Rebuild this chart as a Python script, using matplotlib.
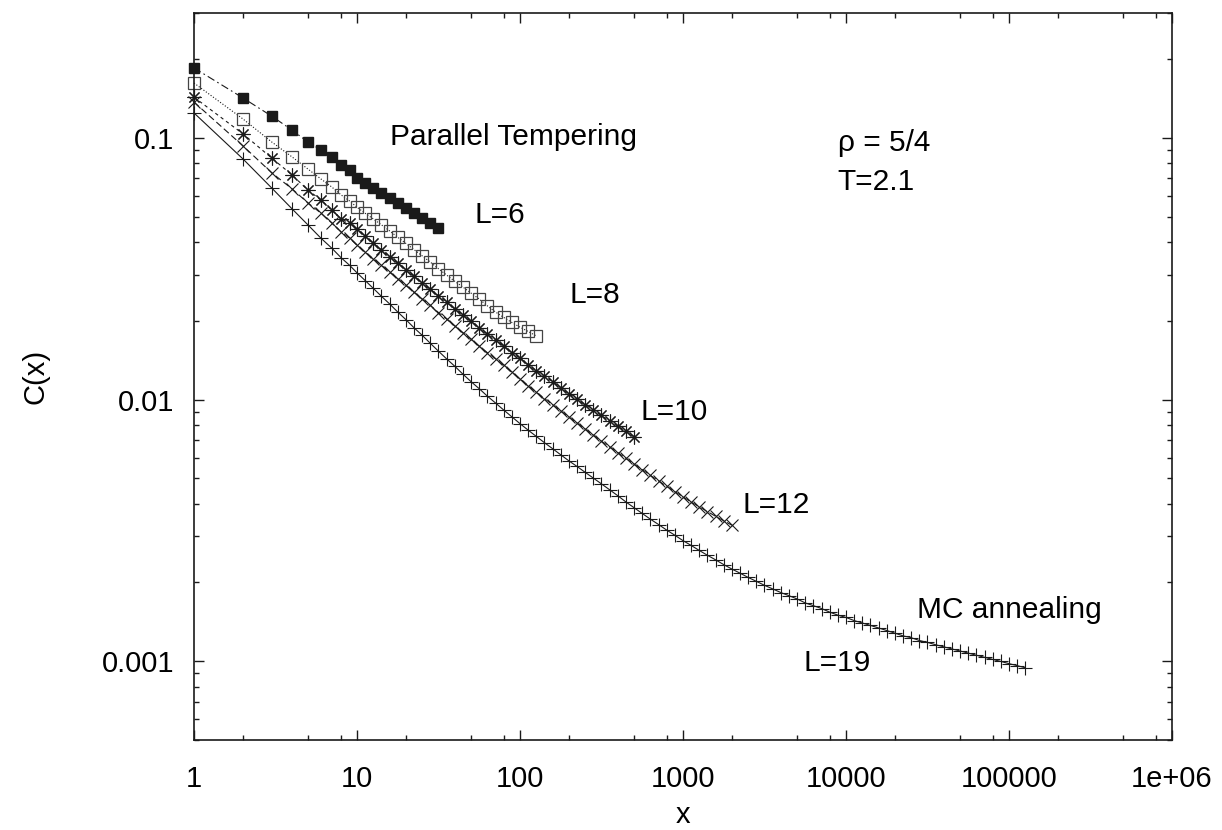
import numpy as np
import matplotlib
matplotlib.use("Agg")
import matplotlib.pyplot as plt
from matplotlib.ticker import FixedLocator, FixedFormatter, LogLocator, NullFormatter

plt.rcParams['font.family'] = ['Liberation Sans', 'DejaVu Sans']

# ---- data ----
# common x grid: integers 1..10, then ~20 points per decade
x_grid = [1, 2, 3, 4, 5, 6, 7, 8, 9, 10,
          11.22, 12.59, 14.13, 15.85, 17.78, 19.95, 22.39, 25.12, 28.18, 31.62,
          35.48, 39.81, 44.67, 50.12, 56.23, 63.10, 70.79, 79.43, 89.13, 100.0,
          112.2, 125.9, 141.3, 158.5, 177.8, 199.5, 223.9, 251.2, 281.8, 316.2,
          354.8, 398.1, 446.7, 501.2, 562.3, 631.0, 707.9, 794.3, 891.3, 1000.0,
          1122, 1259, 1413, 1585, 1778, 1995, 2239, 2512, 2818, 3162,
          3548, 3981, 4467, 5012, 5623, 6310, 7079, 7943, 8913, 10000,
          11220, 12590, 14130, 15850, 17780, 19950, 22390, 25120, 28180, 31620,
          35480, 39810, 44670, 50120, 56230, 63100, 70790, 79430, 89130, 100000,
          112200, 125900]

c_L6 = [0.185, 0.142, 0.121, 0.107, 0.0964, 0.0899, 0.0845, 0.0787, 0.0753, 0.0703,
        0.0673, 0.0644, 0.0617, 0.0590, 0.0565, 0.0540, 0.0516, 0.0494, 0.0473, 0.0453]

c_L8 = [0.162, 0.118, 0.0964, 0.0845, 0.0760, 0.0697, 0.0649, 0.0605, 0.0574, 0.0543,
        0.0515, 0.0490, 0.0465, 0.0441, 0.0417, 0.0395, 0.0374, 0.0354, 0.0335, 0.0316,
        0.0299, 0.0283, 0.0269, 0.0255, 0.0242, 0.0228, 0.0216, 0.0206, 0.0197, 0.0189,
        0.0182, 0.0175]

c_L10 = [0.143, 0.1035, 0.0837, 0.0721, 0.0632, 0.0579, 0.0530, 0.0490, 0.0473, 0.0447,
         0.0421, 0.0396, 0.0373, 0.0352, 0.0332, 0.0313, 0.0296, 0.0279, 0.0264, 0.0249,
         0.0235, 0.0222, 0.0210, 0.0199, 0.0188, 0.0178, 0.0169, 0.0160, 0.0151, 0.0144,
         0.0136, 0.0129, 0.0123, 0.0117, 0.0111, 0.01054, 0.01005, 0.00957, 0.00912, 0.00869,
         0.00828, 0.00791, 0.00755, 0.00721]

c_L12 = [0.137, 0.0931, 0.0735, 0.0638, 0.0564, 0.0516, 0.0473, 0.0437, 0.0414, 0.0389,
         0.0366, 0.0345, 0.0326, 0.0307, 0.0289, 0.0273, 0.0257, 0.0242, 0.0229, 0.0215,
         0.0203, 0.0191, 0.0180, 0.0170, 0.0160, 0.0151, 0.0143, 0.0135, 0.0127, 0.0120,
         0.0113, 0.01067, 0.01009, 0.00955, 0.00904, 0.00857, 0.00813, 0.00771, 0.00731, 0.00693,
         0.00659, 0.00627, 0.00596, 0.00566, 0.00540, 0.00513, 0.00489, 0.00466, 0.00445, 0.00425,
         0.00406, 0.00389, 0.00373, 0.00358, 0.00344, 0.00331]

c_L19 = [0.1245, 0.0830, 0.0643, 0.0535, 0.0465, 0.0414, 0.0379, 0.0348, 0.0326, 0.0305,
         0.0285, 0.0266, 0.0248, 0.0232, 0.0216, 0.0202, 0.0188, 0.0176, 0.0164, 0.0153,
         0.0143, 0.0134, 0.0125, 0.0117, 0.0110, 0.0103, 0.00970, 0.00912, 0.00859, 0.00809,
         0.00764, 0.00723, 0.00684, 0.00649, 0.00615, 0.00583, 0.00555, 0.00527, 0.00501, 0.00476,
         0.00452, 0.00429, 0.00406, 0.00386, 0.00367, 0.00349, 0.00333, 0.00317, 0.00303, 0.00289,
         0.00277, 0.00265, 0.00254, 0.00244, 0.00234, 0.00225, 0.00217, 0.00209, 0.00202, 0.00195,
         0.00189, 0.00183, 0.00178, 0.00173, 0.00167, 0.00163, 0.00159, 0.00154, 0.00150, 0.00147,
         0.00143, 0.00140, 0.00137, 0.00134, 0.00131, 0.00128, 0.00125, 0.00123, 0.00120, 0.00118,
         0.001156, 0.001135, 0.001114, 0.001094, 0.001074, 0.001054, 0.001035, 0.001016, 0.000998, 0.000979,
         0.000962, 0.000944]

x_ticks = [1, 10, 100, 1000, 10000, 100000, 1e6]
x_tick_labels = ["1", "10", "100", "1000", "10000", "100000", "1e+06"]
y_ticks = [0.001, 0.01, 0.1]
y_tick_labels = ["0.001", "0.01", "0.1"]

# ---- figure ----
fig = plt.figure(figsize=(12.22, 8.30), dpi=100)
ax = fig.add_axes([194/1222, 1 - 740/830, 978/1222, 727/830])

ink = "#1a1a1a"
lw = 0.8

def series(c, **kw):
    xs = x_grid[:len(c)]
    ax.plot(xs, c, color=ink, lw=lw, clip_on=False, **kw)

series(c_L6, marker="s", ms=7.8, mfc=ink, mec=ink, dashes=(7, 3, 1.5, 3))
series(c_L8, marker="s", ms=8.2, mfc="none", mec="#444444", mew=0.9, ls=":")
series(c_L10, marker=(8, 2, 0), ms=10, mec=ink, mew=0.8, dashes=(3, 3))
series(c_L12, marker="x", ms=8, mec=ink, mew=0.8, dashes=(6, 3))
series(c_L19, marker="+", ms=10, mec=ink, mew=0.8, ls="-")

ax.set_xscale("log")
ax.set_yscale("log")
ax.set_xlim(1, 1e6)
ax.set_ylim(0.0005, 0.3)

ax.xaxis.set_major_locator(FixedLocator(x_ticks))
ax.xaxis.set_major_formatter(FixedFormatter(x_tick_labels))
ax.xaxis.set_minor_locator(LogLocator(base=10, subs=(2, 5, 8), numticks=20))
ax.xaxis.set_minor_formatter(NullFormatter())
ax.yaxis.set_major_locator(FixedLocator(y_ticks))
ax.yaxis.set_major_formatter(FixedFormatter(y_tick_labels))
ax.yaxis.set_minor_locator(LogLocator(base=10, subs=np.arange(2, 10), numticks=20))
ax.yaxis.set_minor_formatter(NullFormatter())

ax.tick_params(which="both", direction="in", top=True, right=True, color=ink, width=1.0)
ax.tick_params(which="major", length=7, labelsize=21, pad=14)
ax.tick_params(which="minor", length=3.6)
ax.tick_params(axis="x", which="major", pad=18)
for s in ax.spines.values():
    s.set_linewidth(1.2)
    s.set_color(ink)

ax.set_xlabel("x", fontsize=21, labelpad=6)
ax.set_ylabel("C(x)", fontsize=21, labelpad=38)

fs = 21.5
ax.text(0.327, 0.829, "Parallel Tempering", transform=ax.transAxes, fontsize=fs, ha="center", va="center")
ax.text(0.313, 0.722, "L=6", transform=ax.transAxes, fontsize=fs, ha="center", va="center")
ax.text(0.410, 0.612, "L=8", transform=ax.transAxes, fontsize=fs, ha="center", va="center")
ax.text(0.491, 0.451, "L=10", transform=ax.transAxes, fontsize=fs, ha="center", va="center")
ax.text(0.595, 0.323, "L=12", transform=ax.transAxes, fontsize=fs, ha="center", va="center")
ax.text(0.834, 0.179, "MC annealing", transform=ax.transAxes, fontsize=fs, ha="center", va="center")
ax.text(0.658, 0.106, "L=19", transform=ax.transAxes, fontsize=fs, ha="center", va="center")
ax.text(0.658, 0.821, "ρ = 5/4", transform=ax.transAxes, fontsize=fs, ha="left", va="center")
ax.text(0.658, 0.768, "T=2.1", transform=ax.transAxes, fontsize=fs, ha="left", va="center")

fig.savefig("out.png", dpi=100)
